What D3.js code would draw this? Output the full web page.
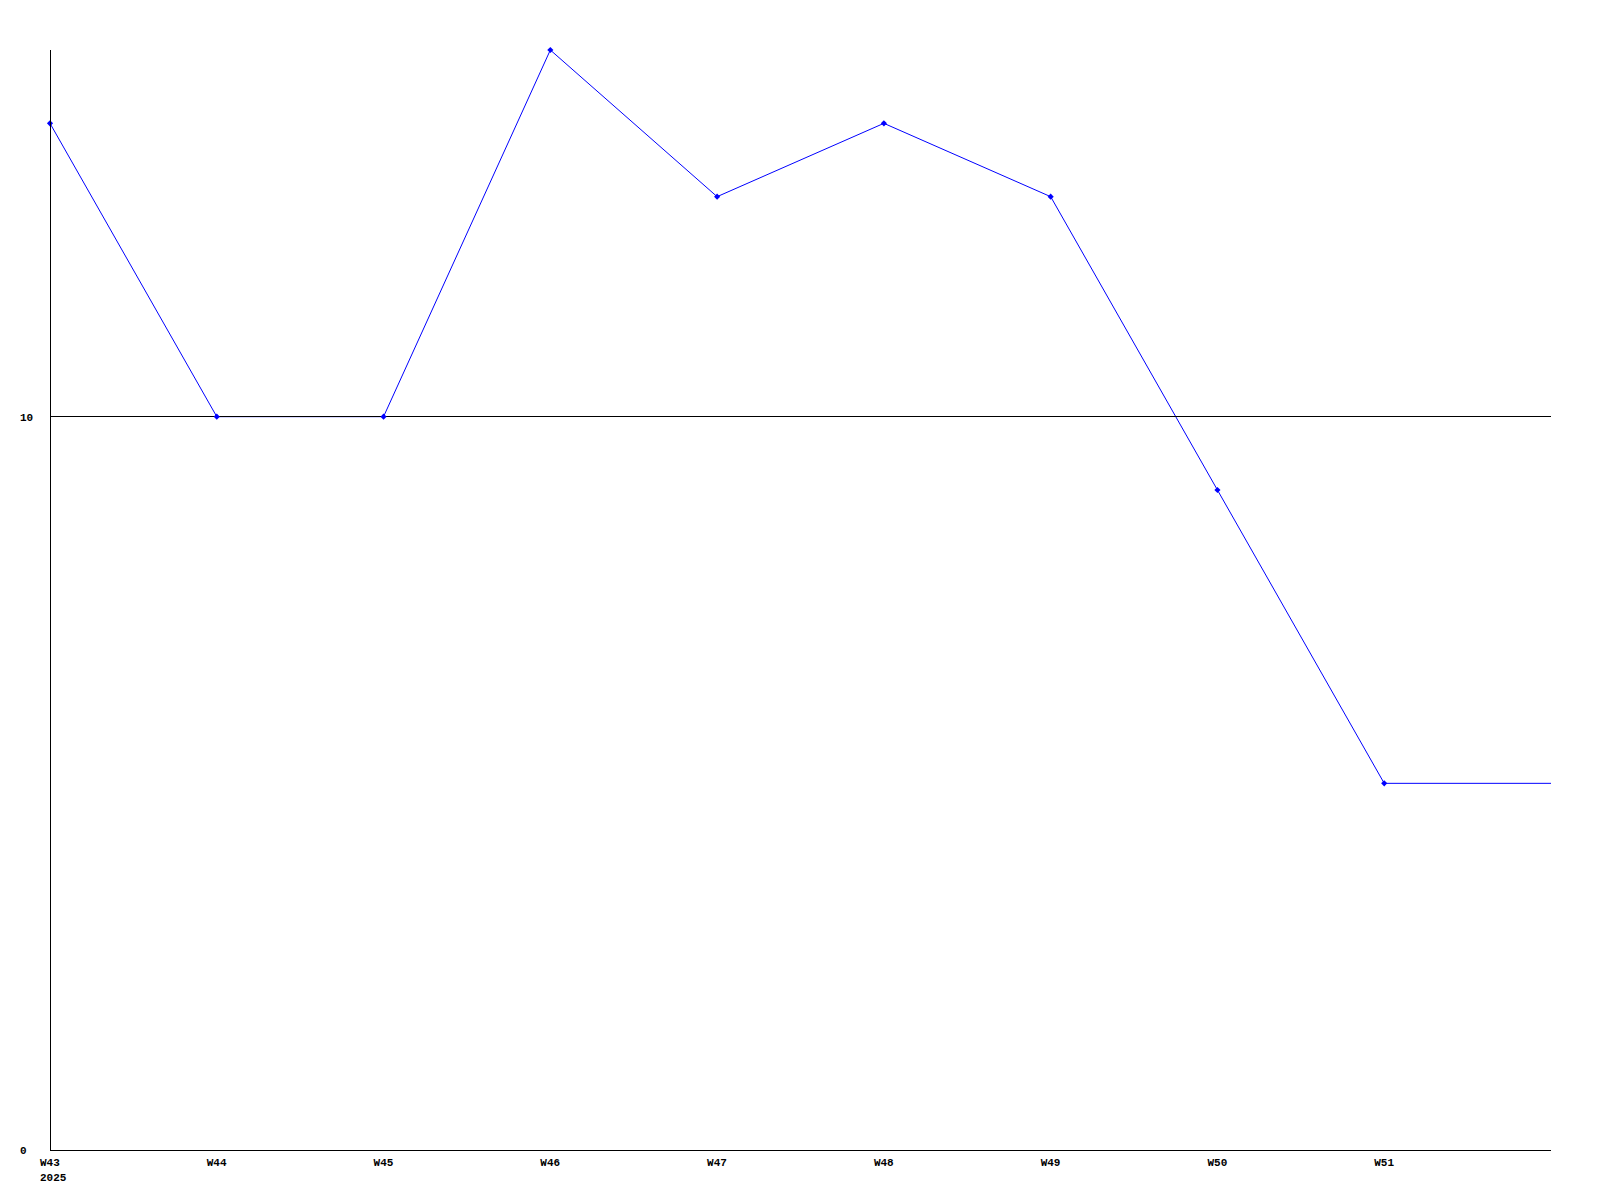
<!DOCTYPE html>
<head lang="en">
<meta charset="utf-8">
<title>Weekly line</title>
<style>
body { margin: 0; background: #fff; }
text { font-family: "Liberation Mono", "DejaVu Sans Mono", monospace; font-weight: bold; font-size: 11px; fill: #000; }
</style>
<script src="https://cdn.jsdelivr.net/npm/d3@7"></script>
</head>
<body>
<div id="chart"></div>
<script>
// weeks shown on the axis, plus one trailing week that the line runs into
var weeks = ['W43', 'W44', 'W45', 'W46', 'W47', 'W48', 'W49', 'W50', 'W51', 'W52'];
var values = [14, 10, 10, 15, 13, 14, 13, 9, 5, 5];
var yTicks = [0, 10];
var yearLabel = '2025';

var width = 1600, height = 1200;
var plotLeft = 50, plotRight = 1551, plotTop = 50, plotBottom = 1150;

var data = weeks.map(function(w, i) { return { week: w, value: values[i] }; });

var x = d3.scalePoint().domain(weeks).range([plotLeft, plotRight]);
var y = d3.scaleLinear().domain([0, 15]).range([plotBottom, plotTop]);

var svg = d3.select("#chart").append("svg")
    .attr("width", width)
    .attr("height", height);

var line = d3.line()
    .x(function(d) { return x(d.week); })
    .y(function(d) { return y(d.value); });

svg.append("path")
    .datum(data)
    .attr("d", line)
    .style("fill", "none")
    .style("stroke", "#0000ff")
    .style("stroke-width", 1);

// reference line at 10, drawn over the series
svg.selectAll(".grid")
    .data(yTicks.filter(function(d) { return d > 0; }))
    .enter()
    .append("line")
        .attr("x1", plotLeft).attr("x2", plotRight)
        .attr("y1", function(d) { return Math.floor(y(d)) + 0.5; })
        .attr("y2", function(d) { return Math.floor(y(d)) + 0.5; })
        .style("stroke", "#000").style("shape-rendering", "crispEdges");

svg.selectAll(".pt")
    .data(data.slice(0, data.length - 1))
    .enter()
    .append("path")
        .attr("d", d3.symbol().type(d3.symbolDiamond2).size(24))
        .attr("transform", function(d) { return "translate(" + x(d.week) + "," + y(d.value) + ")"; })
        .style("fill", "#0000ff");

// y axis line and x axis line
svg.append("line")
    .attr("x1", plotLeft + 0.5).attr("x2", plotLeft + 0.5)
    .attr("y1", plotTop).attr("y2", plotBottom)
    .style("stroke", "#000").style("shape-rendering", "crispEdges");
svg.append("line")
    .attr("x1", plotLeft).attr("x2", plotRight)
    .attr("y1", plotBottom + 0.5).attr("y2", plotBottom + 0.5)
    .style("stroke", "#000").style("shape-rendering", "crispEdges");

svg.selectAll(".ylab")
    .data(yTicks)
    .enter()
    .append("text")
        .attr("x", 20)
        .attr("y", function(d) { return y(d) + 4; })
        .text(function(d) { return d; });

// x labels, all but the trailing week
svg.selectAll(".xlab")
    .data(weeks.slice(0, weeks.length - 1))
    .enter()
    .append("text")
        .attr("x", function(d) { return x(d) - 10; })
        .attr("y", plotBottom + 16)
        .text(function(d) { return d; });

svg.append("text")
    .attr("x", x(weeks[0]) - 10)
    .attr("y", plotBottom + 31)
    .text(yearLabel);
</script>
</body>
</html>
